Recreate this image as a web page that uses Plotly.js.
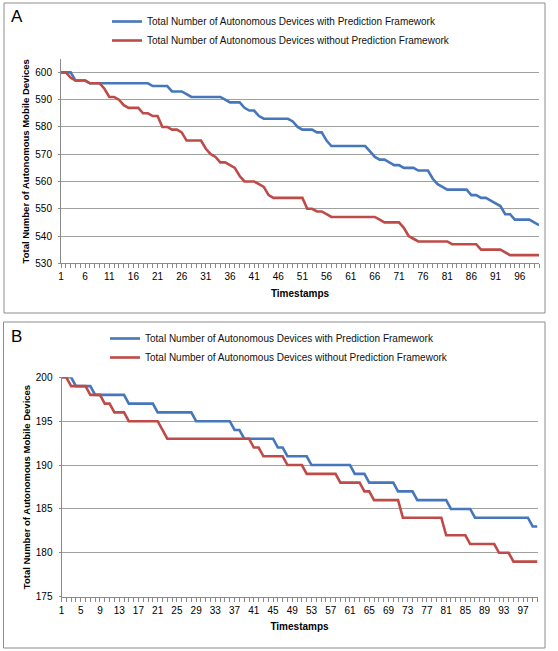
<!DOCTYPE html>
<html>
<head>
<meta charset="utf-8">
<script src="https://cdn.plot.ly/plotly-3.0.1.min.js"></script>
<style>html,body{margin:0;padding:0;background:#fff;}#chart{width:558px;height:651px;}</style>
</head>
<body>
<div id="chart"></div>
<script>
const timestamps = [1,2,3,4,5,6,7,8,9,10,11,12,13,14,15,16,17,18,19,20,21,22,23,24,25,26,27,28,29,30,31,32,33,34,35,36,37,38,39,40,41,42,43,44,45,46,47,48,49,50,51,52,53,54,55,56,57,58,59,60,61,62,63,64,65,66,67,68,69,70,71,72,73,74,75,76,77,78,79,80,81,82,83,84,85,86,87,88,89,90,91,92,93,94,95,96,97,98,99,100];

const seriesNames = [
  "Total Number of Autonomous Devices with Prediction Framework",
  "Total Number of Autonomous Devices without Prediction Framework"
];

// Panel A (600 devices)
const panelA_with = [
  600,600,600,597,597,597,596,596,596,596,
  596,596,596,596,596,596,596,596,596,595,
  595,595,595,593,593,593,592,591,591,591,
  591,591,591,591,590,589,589,589,587,586,
  586,584,583,583,583,583,583,583,582,580,
  579,579,579,578,578,575,573,573,573,573,
  573,573,573,573,571,569,568,568,567,566,
  566,565,565,565,564,564,564,561,559,558,
  557,557,557,557,557,555,555,554,554,553,
  552,551,548,548,546,546,546,546,545,544
];
const panelA_without = [
  600,600,598,597,597,597,596,596,596,594,
  591,591,590,588,587,587,587,585,585,584,
  584,580,580,579,579,578,575,575,575,575,
  572,570,569,567,567,566,565,562,560,560,
  560,559,558,555,554,554,554,554,554,554,
  554,550,550,549,549,548,547,547,547,547,
  547,547,547,547,547,547,546,545,545,545,
  545,543,540,539,538,538,538,538,538,538,
  538,537,537,537,537,537,537,535,535,535,
  535,535,534,533,533,533,533,533,533,533
];

// Panel B (200 devices)
const panelB_with = [
  200,200,200,199,199,199,199,198,198,198,
  198,198,198,198,197,197,197,197,197,197,
  196,196,196,196,196,196,196,196,195,195,
  195,195,195,195,195,195,194,194,193,193,
  193,193,193,193,193,192,192,191,191,191,
  191,191,190,190,190,190,190,190,190,190,
  190,189,189,189,188,188,188,188,188,188,
  187,187,187,187,186,186,186,186,186,186,
  186,185,185,185,185,185,184,184,184,184,
  184,184,184,184,184,184,184,184,183,183
];
const panelB_without = [
  200,200,199,199,199,199,198,198,198,197,
  197,196,196,196,195,195,195,195,195,195,
  195,194,193,193,193,193,193,193,193,193,
  193,193,193,193,193,193,193,193,193,193,
  192,192,191,191,191,191,191,190,190,190,
  190,189,189,189,189,189,189,189,188,188,
  188,188,188,187,187,186,186,186,186,186,
  186,184,184,184,184,184,184,184,184,184,
  182,182,182,182,182,181,181,181,181,181,
  181,180,180,180,179,179,179,179,179,179
];

const yTitle = "Total Number of Autonomous Mobile Devices";
const xTitle = "Timestamps";

const BLUE = "#4677BA";
const RED = "#BE4B48";
const GRID = "#a0a0a0";
const AXIS = "#8a8a8a";
const FONT = "Liberation Sans, Arial, sans-serif";
const W = 558, H = 651;

function px(x){ return x / W; }
function py(y){ return 1 - y / H; }

const traces = [
  {x: timestamps, y: panelA_with, name: seriesNames[0], xaxis: "x", yaxis: "y", legend: "legend",
   mode: "lines", line: {color: BLUE, width: 2.6}},
  {x: timestamps, y: panelA_without, name: seriesNames[1], xaxis: "x", yaxis: "y", legend: "legend",
   mode: "lines", line: {color: RED, width: 2.6}},
  {x: timestamps, y: panelB_with, name: seriesNames[0], xaxis: "x2", yaxis: "y2", legend: "legend2",
   mode: "lines", line: {color: BLUE, width: 2.6}},
  {x: timestamps, y: panelB_without, name: seriesNames[1], xaxis: "x2", yaxis: "y2", legend: "legend2",
   mode: "lines", line: {color: RED, width: 2.6}}
];

function xAxis(domain, dtick, anchor){
  return {
    domain: domain, range: [1, 100], anchor: anchor,
    tick0: 1, dtick: dtick, ticks: "outside", ticklen: 4, tickcolor: AXIS,
    minor: {dtick: 1, tick0: 1, ticks: "outside", ticklen: 4, tickcolor: AXIS, showgrid: false},
    showline: true, linecolor: AXIS, linewidth: 1, showgrid: false, zeroline: false,
    tickfont: {family: FONT, size: 10, color: "#000"},
    title: {text: "<b>" + xTitle + "</b>", font: {family: FONT, size: 10, color: "#000"}, standoff: 8},
    fixedrange: true
  };
}
function yAxis(domain, range, dtick, anchor){
  return {
    domain: domain, range: range, anchor: anchor,
    tick0: range[0], dtick: dtick, ticks: "outside", ticklen: 2, tickcolor: AXIS,
    ticklabelstandoff: 4,
    showline: true, linecolor: AXIS, linewidth: 1,
    showgrid: true, gridcolor: GRID, gridwidth: 1, zeroline: false,
    tickfont: {family: FONT, size: 10, color: "#000"},
    title: {text: "<b>" + yTitle + "</b>", font: {family: FONT, size: 9.5, color: "#000"}, standoff: 3},
    fixedrange: true
  };
}

const layout = {
  width: W, height: H,
  margin: {l: 0, r: 0, t: 0, b: 0},
  paper_bgcolor: "#fff", plot_bgcolor: "rgba(0,0,0,0)",
  font: {family: FONT, size: 10, color: "#000"},
  xaxis: xAxis([px(61), px(539)], 5, "y"),
  yaxis: yAxis([py(263.3), py(59.3)], [530, 604.8], 10, "x"),
  xaxis2: xAxis([px(61.5), px(537.5)], 4, "y2"),
  yaxis2: yAxis([py(596.7), py(377.3)], [175, 200], 5, "x2"),
  legend: {x: px(107), y: py(7), xanchor: "left", yanchor: "top", bgcolor: "rgba(0,0,0,0)",
           font: {family: FONT, size: 10, color: "#111"}, tracegroupgap: 0, itemwidth: 30},
  legend2: {x: px(105), y: py(324), xanchor: "left", yanchor: "top", bgcolor: "rgba(0,0,0,0)",
           font: {family: FONT, size: 10, color: "#111"}, tracegroupgap: 0, itemwidth: 30},
  shapes: [
    {type: "rect", xref: "paper", yref: "paper", x0: px(4), x1: px(545), y0: py(313), y1: py(3),
     line: {color: "#8c8c8c", width: 1}, fillcolor: "rgba(0,0,0,0)", layer: "below"},
    {type: "rect", xref: "paper", yref: "paper", x0: px(3.5), x1: px(545), y0: py(648), y1: py(322),
     line: {color: "#8c8c8c", width: 1}, fillcolor: "rgba(0,0,0,0)", layer: "below"}
  ],
  annotations: [
    {text: "A", xref: "paper", yref: "paper", x: px(9), y: py(5), xanchor: "left", yanchor: "top",
     showarrow: false, font: {family: FONT, size: 17, color: "#000"}},
    {text: "B", xref: "paper", yref: "paper", x: px(9), y: py(325), xanchor: "left", yanchor: "top",
     showarrow: false, font: {family: FONT, size: 17, color: "#000"}}
  ],
  showlegend: true
};

Plotly.newPlot("chart", traces, layout, {displayModeBar: false, staticPlot: true});
</script>
</body>
</html>
